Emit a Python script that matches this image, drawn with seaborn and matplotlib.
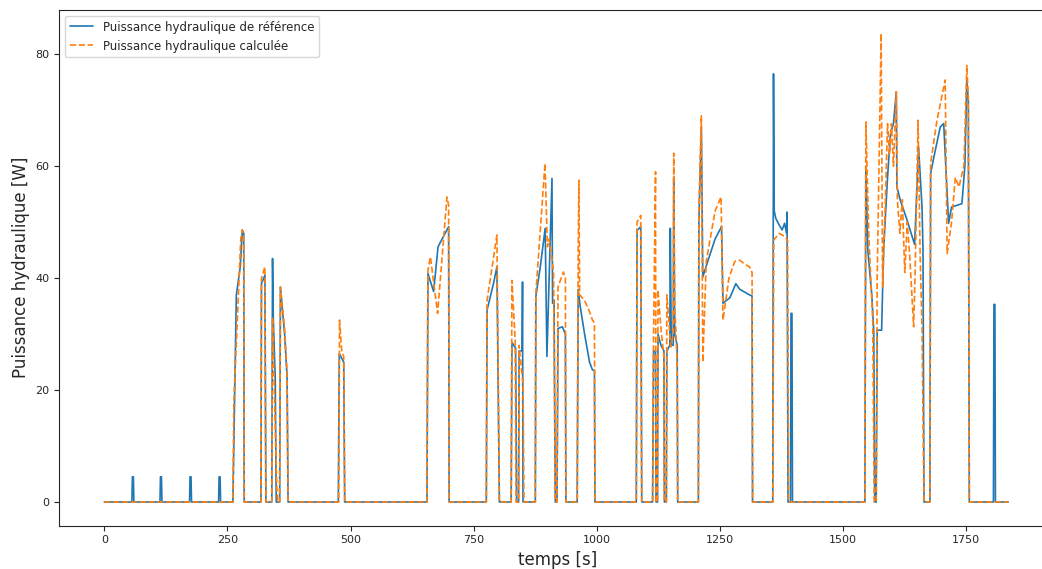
import matplotlib
matplotlib.use("Agg")
import matplotlib.pyplot as plt
import seaborn as sns

# temps [s] / puissance [W]
t_ref = [0, 56, 57, 59, 60,
         113, 114, 116, 117,
         173, 174, 176, 177,
         232, 233, 235, 236,
         261, 268, 276, 280, 283, 284,
         318, 319, 326, 328,
         340, 341.5, 343, 347, 349,
         356, 357.5, 366, 371, 373,
         475, 477, 486, 488,
         655, 657, 668.5, 677.5, 699, 700,
         775.5, 777, 790, 797, 802,
         826, 827.5, 835, 837, 841, 842, 848, 849, 850,
         875, 876, 885, 895, 898.5, 908.8, 910, 913, 915.5,
         919, 921, 930, 936, 937,
         960, 962, 966, 975, 985, 991, 995, 996,
         1080, 1081.5, 1089, 1091,
         1113, 1115, 1119, 1120, 1123, 1124, 1130, 1136, 1137, 1141, 1142, 1148, 1149, 1151, 1155, 1156, 1158, 1163, 1164,
         1206, 1207, 1212, 1215, 1225, 1240, 1253, 1256, 1270, 1282, 1290, 1300, 1310, 1315, 1316,
         1357, 1358.5, 1360, 1363, 1370, 1376, 1381, 1385, 1386, 1388, 1393, 1394, 1396, 1397,
         1544, 1546, 1550, 1558, 1562, 1564,
         1567, 1569, 1578, 1582, 1590, 1596, 1602, 1607.8, 1609, 1616, 1629.5, 1640, 1645, 1653, 1660, 1662, 1664,
         1676, 1677.5, 1685, 1697, 1704, 1714, 1720, 1731, 1741, 1747, 1751, 1754, 1756,
         1805, 1806, 1808, 1809, 1835]
p_ref = [0, 0, 4.5, 4.5, 0,
         0, 4.5, 4.5, 0,
         0, 4.5, 4.5, 0,
         0, 4.5, 4.5, 0,
         0, 37, 42, 48.6, 48, 0,
         0, 39, 40.5, 0,
         0, 43.5, 33, 22, 0,
         0, 38.4, 30, 22.4, 0,
         0, 26.5, 25, 0,
         0, 40.8, 37.6, 45.6, 49.2, 0,
         0, 34.3, 39, 42, 0,
         0, 28.5, 27.5, 0, 0, 27, 27, 39.3, 0,
         0, 36.7, 42, 48.9, 26, 57.8, 35.5, 36, 0,
         0, 31, 31.3, 30, 0,
         0, 38, 35, 30, 25, 23.6, 23.5, 0,
         0, 48.5, 49.2, 0,
         0, 27, 27, 0, 0, 30, 28, 27, 0, 0, 27, 28, 48.9, 28, 28, 58, 30, 28, 0,
         0, 50, 67, 40.2, 43, 47, 49.2, 35.5, 36.5, 39, 38, 37.5, 37, 36.8, 0,
         0, 76.5, 52, 50.7, 49.5, 48.6, 49.8, 48, 51.8, 0, 0, 33.7, 33.7, 0,
         0, 60, 45, 37, 30.5, 0,
         0, 30.7, 30.7, 45, 58, 65.8, 67.6, 73.3, 56.3, 53.9, 50.4, 47.4, 46, 63.4, 52.7, 45, 0,
         0, 58.7, 62, 67, 67.6, 49.8, 52.7, 53, 53.3, 60, 75.4, 71.8, 0,
         0, 35.3, 35.3, 0, 0]

t_calc = [0, 261, 263, 277, 280, 283, 284,
          318, 319, 326, 328,
          340, 341.5, 350, 352,
          356, 357.5, 366, 371, 373,
          476, 477.5, 482, 486, 488,
          655, 657, 662, 676.6, 695.6, 699, 700,
          775.5, 777, 797, 802,
          826, 827.5, 834, 836, 841, 842, 850, 852,
          875, 876, 894.6, 899.5, 903, 908, 912, 915.5,
          919, 921, 932, 936, 937,
          960, 962, 963.5, 965, 975, 985, 991, 995, 996,
          1080, 1081.5, 1089, 1091,
          1113, 1115, 1119, 1120, 1123, 1124, 1130, 1136, 1137, 1141, 1142, 1150, 1155, 1156, 1158, 1163, 1164,
          1206, 1207, 1212, 1215, 1222, 1240, 1252, 1256, 1268, 1280, 1290, 1300, 1310, 1315, 1316,
          1357, 1359, 1370, 1380, 1387, 1389,
          1544, 1546, 1552, 1560, 1563,
          1567, 1569, 1577, 1580, 1586, 1590, 1594, 1598, 1602, 1607.8, 1610, 1615, 1620, 1625, 1630, 1635, 1643, 1646, 1652, 1656, 1660, 1664,
          1676, 1677.5, 1690, 1707, 1711, 1720, 1727.6, 1735, 1745, 1751, 1754, 1756,
          1835]
p_calc = [0, 0, 18, 47, 48.6, 48, 0,
          0, 40, 42, 0,
          0, 33, 3, 0,
          0, 38.4, 31, 23, 0,
          0, 32.5, 27, 26, 0,
          0, 41.4, 43.8, 33.7, 54.5, 53, 0,
          0, 36, 47.7, 0,
          0, 39.6, 29, 0, 0, 28, 21, 0,
          0, 37.3, 60.5, 45.6, 47, 44, 41, 0,
          0, 38.4, 41.1, 40, 0,
          0, 45, 57.5, 37, 36, 34, 32.5, 32, 0,
          0, 50, 51.2, 0,
          0, 30, 59, 0, 0, 37.9, 31, 26, 0, 0, 37, 27.7, 30, 62.3, 35, 25, 0,
          0, 52, 69, 25, 43, 52, 54.5, 32.5, 40, 43, 43.2, 42.5, 42, 41, 0,
          0, 46.8, 48, 47.5, 46.8, 0,
          0, 67.9, 47.4, 32.5, 0,
          0, 40, 83.7, 38.4, 55, 67.6, 62, 67.6, 60, 73.3, 54, 48, 54, 41, 50, 44, 31.3, 41, 68.2, 45, 31, 0,
          0, 60.5, 68, 75.4, 44.4, 50, 58, 56.3, 60, 78, 72, 0,
          0]

sns.set_style("ticks")
fig = plt.figure(figsize=(10.42, 5.69), dpi=100)
ax = fig.add_axes([59 / 1042, 43.5 / 569, 997 / 1042, 515.5 / 569])

sns.lineplot(x=t_ref, y=p_ref, ax=ax, color="#1f77b4", lw=1.2, sort=False,
             estimator=None, label="Puissance hydraulique de référence")
sns.lineplot(x=t_calc, y=p_calc, ax=ax, color="#ff7f0e", lw=1.2, ls="--", sort=False,
             estimator=None, label="Puissance hydraulique calculée")

ax.set_xlim(-92, 1932)
ax.set_ylim(-4.2, 87.9)
ax.set_xticks(range(0, 1751, 250))
ax.set_yticks(range(0, 81, 20))
ax.tick_params(labelsize=8)
ax.set_xlabel("temps [s]", fontsize=12)
ax.set_ylabel("Puissance hydraulique [W]", fontsize=12)
ax.legend(loc="upper left", fontsize=8.5)

fig.savefig("out.png", dpi=100)
